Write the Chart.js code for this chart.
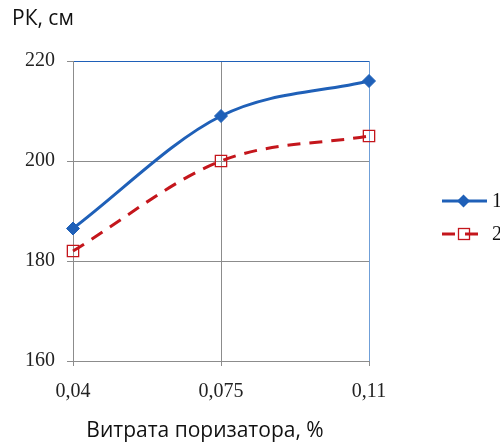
<!DOCTYPE html>
<html>
<head>
<meta charset="utf-8">
<script src="https://cdn.jsdelivr.net/npm/chart.js@4/dist/chart.umd.min.js"></script>
<style>
  html, body { margin: 0; padding: 0; background: #fff; }
  canvas { display: block; }
</style>
</head>
<body>
<canvas id="c" width="500" height="444"></canvas>
<script>
// Витрата поризатора, % (категорії осі X)
const categories = ['0,04', '0,075', '0,11'];
// РК, см для двох складів
const series1 = [186.5, 209, 216];
const series2 = [182, 200, 205];
const seriesNames = ['1', '2'];
// Поділки осі Y
const yTicks = [160, 180, 200, 220];

const blue = '#1f60b8';
const lightBlue = '#6f9fd8';
const red = '#c4161c';
const gridGray = '#8c8c8c';
const serif = '"Liberation Serif", "DejaVu Serif", serif';
const sans = '"Open Sans", "DejaVu Sans", sans-serif';

// Підписи осей: «РК, см» над графіком і назва осі X під ним
const axisTitles = {
  id: 'axisTitles',
  afterDraw(chart) {
    const ctx = chart.ctx;
    ctx.save();
    ctx.fillStyle = '#111';
    ctx.textBaseline = 'middle';
    ctx.font = '21px ' + sans;
    ctx.textAlign = 'left';
    ctx.fillText('РК, см', 12, 19);
    ctx.textAlign = 'center';
    ctx.fillText('Витрата поризатора, %', 205, 431);
    ctx.restore();
  }
};

// Легенда праворуч: лінія з маркером і номер серії
const sideLegend = {
  id: 'sideLegend',
  afterDraw(chart) {
    const ctx = chart.ctx;
    const x0 = 442, x1 = 487;
    chart.data.datasets.forEach((ds, i) => {
      const y = 201 + i * 33;
      const xm = (x0 + x1) / 2;
      ctx.save();
      ctx.strokeStyle = ds.borderColor;
      ctx.lineWidth = 3;
      if (ds.borderDash) {
        ctx.beginPath(); ctx.moveTo(x0, y); ctx.lineTo(x0 + 13, y); ctx.stroke();
        ctx.beginPath(); ctx.moveTo(x0 + 23, y); ctx.lineTo(x0 + 36, y); ctx.stroke();
        ctx.strokeStyle = ds.pointBorderColor;
        ctx.lineWidth = ds.pointBorderWidth;
        ctx.strokeRect(x0 + 16.5, y - 5.5, 11, 11);
      } else {
        ctx.beginPath(); ctx.moveTo(x0, y); ctx.lineTo(x1, y); ctx.stroke();
        const r = 6.5;
        ctx.fillStyle = ds.pointBackgroundColor;
        ctx.beginPath();
        ctx.moveTo(xm - 1, y - r); ctx.lineTo(xm - 1 + r, y); ctx.lineTo(xm - 1, y + r); ctx.lineTo(xm - 1 - r, y);
        ctx.closePath();
        ctx.fill();
      }
      ctx.fillStyle = '#111';
      ctx.font = '20px ' + serif;
      ctx.textBaseline = 'middle';
      ctx.textAlign = 'left';
      ctx.fillText(ds.label, x1 + 5, y + 1);
      ctx.restore();
    });
  }
};

new Chart(document.getElementById('c'), {
  type: 'line',
  data: {
    labels: categories,
    datasets: [
      {
        label: seriesNames[0],
        data: series1,
        borderColor: blue,
        backgroundColor: blue,
        borderWidth: 3,
        cubicInterpolationMode: 'monotone',
        pointStyle: 'rectRot',
        pointRadius: 6.5,
        pointBackgroundColor: blue,
        pointBorderColor: blue,
        pointBorderWidth: 1
      },
      {
        label: seriesNames[1],
        data: series2,
        borderColor: red,
        backgroundColor: 'rgba(0,0,0,0)',
        borderWidth: 3,
        borderDash: [13, 9],
        cubicInterpolationMode: 'monotone',
        pointStyle: 'rect',
        pointRadius: 8,
        pointBackgroundColor: 'rgba(0,0,0,0)',
        pointBorderColor: red,
        pointBorderWidth: 1.3
      }
    ]
  },
  options: {
    responsive: false,
    animation: false,
    devicePixelRatio: 1,
    layout: { padding: { left: 0, right: 131, top: 61, bottom: 0 } },
    plugins: {
      legend: { display: false },
      tooltip: { enabled: false }
    },
    scales: {
      x: {
        type: 'category',
        offset: false,
        afterFit(s) { s.height = 83; },
        grid: {
          color: ctx => (ctx.index === 2 ? lightBlue : gridGray),
          tickColor: gridGray,
          tickLength: 5,
          lineWidth: 1
        },
        border: { color: gridGray, width: 1 },
        ticks: {
          color: '#222',
          padding: 14,
          maxRotation: 0,
          font: { family: serif, size: 20 }
        }
      },
      y: {
        min: 160,
        max: 220,
        afterFit(s) { s.width = 73; },
        afterBuildTicks(s) { s.ticks = yTicks.map(v => ({ value: v })); },
        grid: {
          color: ctx => (ctx.tick && ctx.tick.value === 220 ? blue : gridGray),
          tickColor: gridGray,
          tickLength: 6,
          lineWidth: 1
        },
        border: { color: gridGray, width: 1 },
        ticks: {
          color: '#222',
          padding: 12,
          font: { family: serif, size: 20 }
        }
      }
    }
  },
  plugins: [axisTitles, sideLegend]
});
</script>
</body>
</html>
